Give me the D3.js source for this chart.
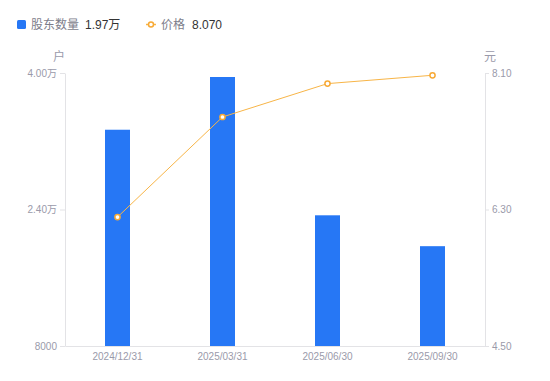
<!DOCTYPE html>
<html>
<head>
<meta charset="utf-8">
<script src="https://cdn.jsdelivr.net/npm/d3@7"></script>
<style>
  body { margin: 0; background: #fff; font-family: "Liberation Sans", "Noto Sans CJK SC", sans-serif; }
  #chart { width: 550px; height: 381px; }
  .axis path, .axis line { stroke: #e3e3e6; }
  .axis text { fill: #9a9aaa; font-size: 10px; font-family: "Liberation Sans", "Noto Sans CJK SC", sans-serif; }
</style>
</head>
<body>
<div id="chart"></div>
<script>
// data
const dates = ["2024/12/31", "2025/03/31", "2025/06/30", "2025/09/30"];
const holders = [33350, 39530, 23320, 19700];
const prices = [6.20, 7.52, 7.96, 8.07];
const leftTicks = [8000, 24000, 40000];
const leftTickLabels = ["8000", "2.40万", "4.00万"];
const rightTicks = [4.5, 6.3, 8.1];

document.addEventListener("DOMContentLoaded", function() {
  const width = 550, height = 381;
  const margin = {top: 73, right: 65, bottom: 35, left: 65};

  var svg = d3.select("#chart").append("svg")
    .attr("width", width)
    .attr("height", height);

  var x = d3.scaleBand()
    .domain(dates)
    .range([margin.left, width - margin.right]);

  var yLeft = d3.scaleLinear()
    .domain([8000, 40000])
    .range([height - margin.bottom, margin.top]);

  var yRight = d3.scaleLinear()
    .domain([4.5, 8.1])
    .range([height - margin.bottom, margin.top]);

  //axes
  var fmt = d3.scaleOrdinal().domain(leftTicks).range(leftTickLabels);
  svg.append("g").attr("class", "axis")
    .attr("transform", "translate(" + margin.left + ",0)")
    .call(d3.axisLeft(yLeft).tickValues(leftTicks).tickFormat(fmt).tickSize(5).tickSizeOuter(0).tickPadding(3));

  svg.append("g").attr("class", "axis")
    .attr("transform", "translate(" + (width - margin.right) + ",0)")
    .call(d3.axisRight(yRight).tickValues(rightTicks).tickFormat(d3.format(".2f")).tickSize(4).tickSizeOuter(0).tickPadding(3));

  var xAxis = svg.append("g").attr("class", "axis")
    .attr("transform", "translate(0," + (height - margin.bottom) + ")")
    .call(d3.axisBottom(x).tickSize(0).tickSizeOuter(0).tickPadding(8));
  xAxis.selectAll("text").attr("dy", "0.6em");

  //units
  svg.append("text").attr("x", 59).attr("y", 61).attr("text-anchor", "middle")
    .attr("fill", "#9a9aaa").style("font-size", "12px").text("户");
  svg.append("text").attr("x", 490).attr("y", 61).attr("text-anchor", "middle")
    .attr("fill", "#9a9aaa").style("font-size", "12px").text("元");

  //bars
  var barW = 25;
  svg.selectAll(".bar").data(holders).enter().append("rect")
    .attr("class", "bar")
    .attr("x", (d, i) => x(dates[i]) + x.bandwidth() / 2 - barW / 2)
    .attr("y", (d) => yLeft(d))
    .attr("width", barW)
    .attr("height", (d) => yLeft(8000) - yLeft(d))
    .attr("fill", "#2677f5");

  //price line
  var line = d3.line()
    .x((d, i) => x(dates[i]) + x.bandwidth() / 2)
    .y((d) => yRight(d));

  svg.append("path").datum(prices)
    .attr("d", line)
    .attr("fill", "none")
    .attr("stroke", "#f8b547")
    .attr("stroke-width", 1);

  svg.selectAll(".pt").data(prices).enter().append("circle")
    .attr("class", "pt")
    .attr("cx", (d, i) => x(dates[i]) + x.bandwidth() / 2)
    .attr("cy", (d) => yRight(d))
    .attr("r", 2.6)
    .attr("fill", "#fff")
    .attr("stroke", "#f7a935")
    .attr("stroke-width", 1.5);

  //legend
  var lg = svg.append("g").style("font-size", "12px");
  lg.append("rect").attr("x", 17).attr("y", 20).attr("width", 9).attr("height", 9)
    .attr("rx", 1.5).attr("fill", "#2677f5");
  lg.append("text").attr("x", 31).attr("y", 29).attr("fill", "#7d7d8a").text("股东数量");
  lg.append("text").attr("x", 85).attr("y", 29).attr("fill", "#333").text("1.97万");

  lg.append("line").attr("x1", 146).attr("x2", 156).attr("y1", 24.5).attr("y2", 24.5)
    .attr("stroke", "#f8b547").attr("stroke-width", 1.5);
  lg.append("circle").attr("cx", 151).attr("cy", 24.5).attr("r", 2.5)
    .attr("fill", "#fff").attr("stroke", "#f7a935").attr("stroke-width", 1.5);
  lg.append("text").attr("x", 161).attr("y", 29).attr("fill", "#7d7d8a").text("价格");
  lg.append("text").attr("x", 192).attr("y", 29).attr("fill", "#333").text("8.070");
});
</script>
</body>
</html>
